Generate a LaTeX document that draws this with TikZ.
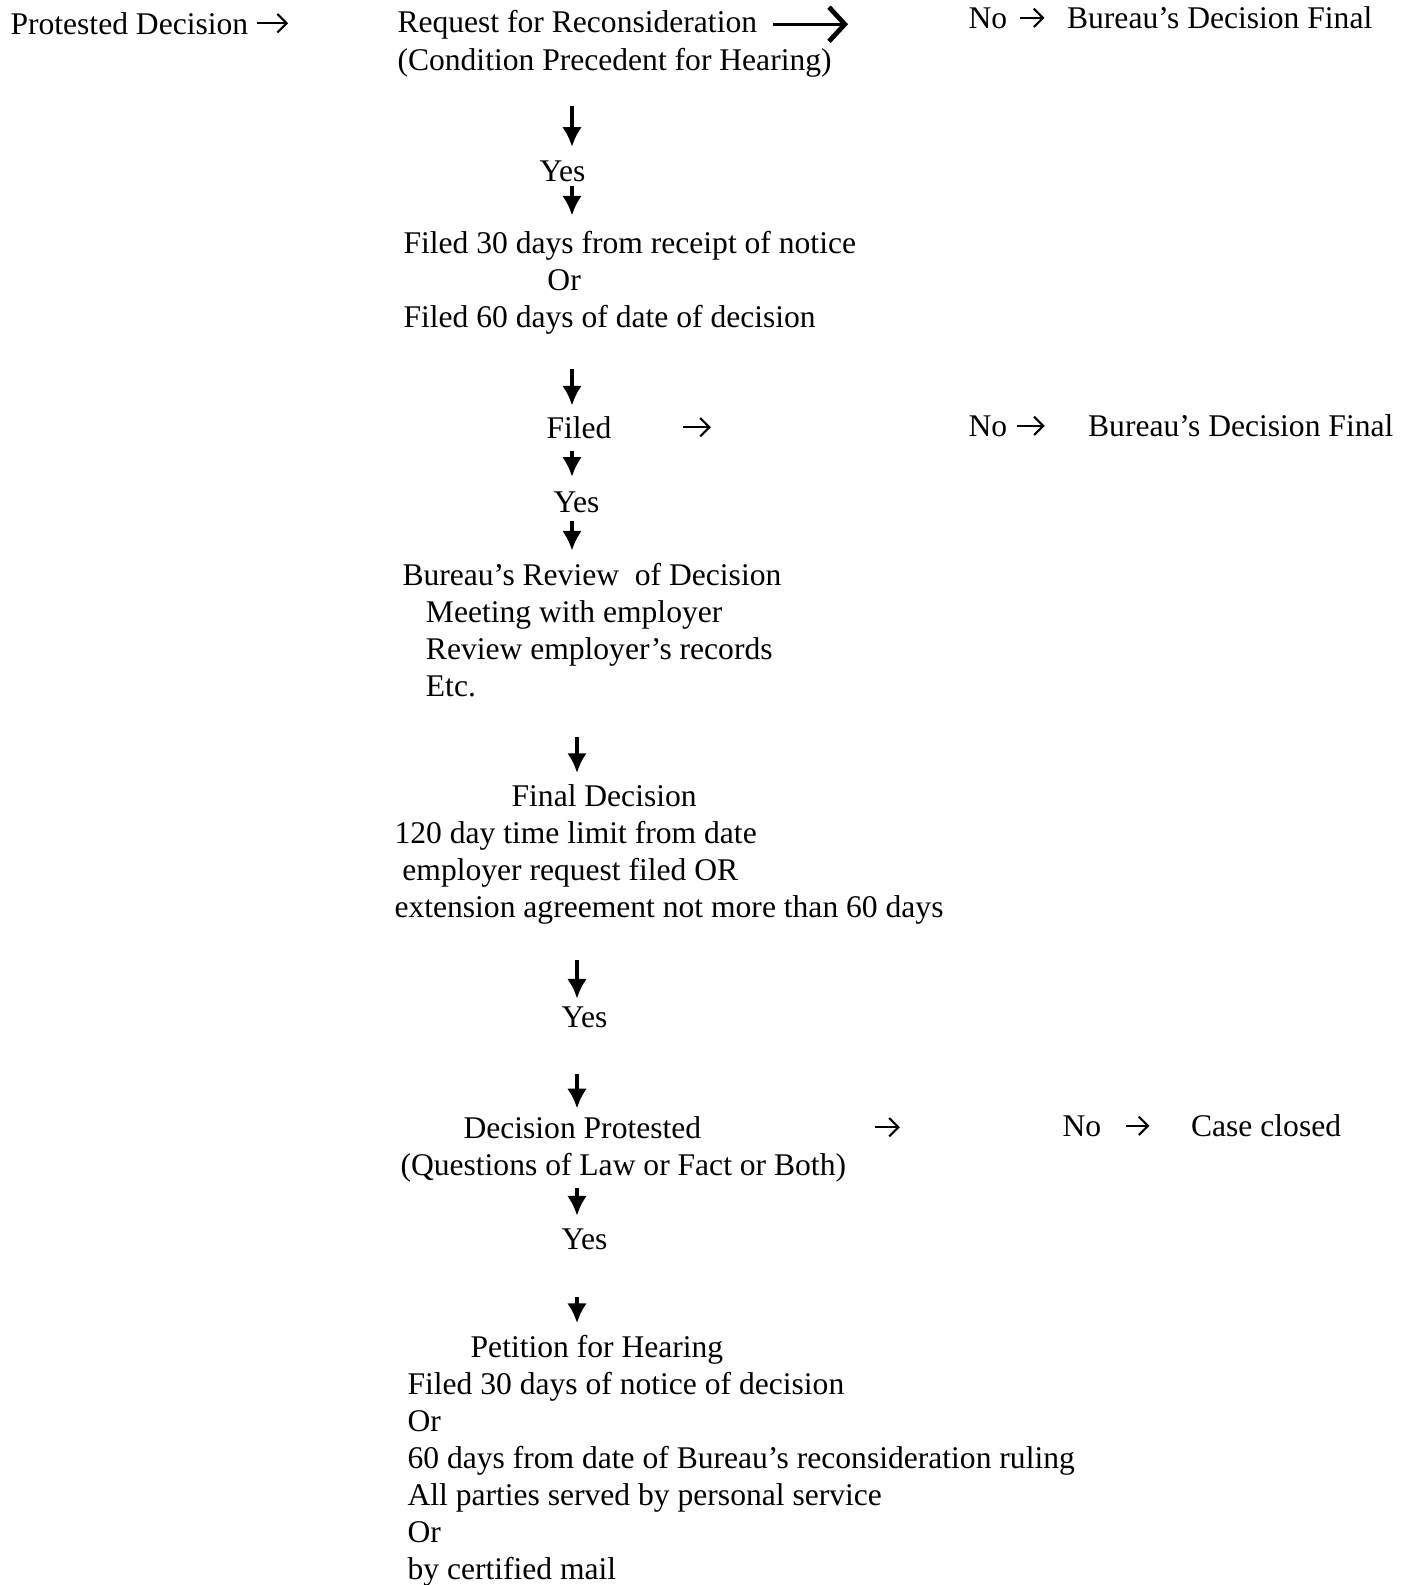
\documentclass[tikz,border=0pt]{standalone}
\usepackage{fontspec}
\setmainfont{Liberation Serif}
\usetikzlibrary{arrows.meta,positioning}

\begin{document}
\begin{tikzpicture}[x=0.38pt, y=-0.38pt]
\tikzset{
    mytext/.style={inner sep=0pt, anchor=base west, align=left, font=\fontsize{12}{14}\selectfont},
    downarrow/.style={->, >={Latex[length=7.5pt,width=7.5pt]}, line width=1.5pt},
    rightarrow/.style={->, >={Straight Barb[length=3.5pt,width=7pt]}, line width=0.8pt},
    handarrow/.style={->, >={Straight Barb[length=6pt,width=13pt,line width=1.8pt]}, line width=1.2pt}
}
\useasboundingbox (0,0) rectangle (1417,1585);
\coordinate (colA) at (572,0);
\coordinate (colB) at (577,0);
% multi-line nodes sit on the baseline of their last line

% first row
\node[mytext] (protested) at (10,34) {Protested Decision};
\node[mytext] (request) at (397,32) {Request for Reconsideration};
\node[mytext] (condition) at (397,70) {(Condition Precedent for Hearing)};
\node[mytext] (no1) at (968,28) {No};
\node[mytext, base right=22.4pt of no1] (final1) {Bureau’s Decision Final};

\node[mytext] (yes1) at (539,181) {Yes};
\node[mytext] (filing) at (403,327) {Filed 30 days from receipt of notice\\\hspace*{54.7pt}Or\\Filed 60 days of date of decision};

% filed row
\node[mytext] (filed) at (546,438) {Filed};
\node[mytext] (no2) at (968,436) {No};
\node[mytext, base right=30.4pt of no2] (final2) {Bureau’s Decision Final};

\node[mytext] (yes2) at (553,512) {Yes};
\node[mytext] (review) at (402,696) {Bureau’s Review\ \ of Decision\\\hspace*{8.9pt}Meeting with employer\\\hspace*{8.9pt}Review employer’s records\\\hspace*{8.9pt}Etc.};
\node[mytext] (finaldec) at (394,917) {\hspace*{44.5pt}Final Decision\\120 day time limit from date\\\hspace*{3pt}employer request filed OR\\extension agreement not more than 60 days};
\node[mytext] (yes3) at (561,1027) {Yes};

% protest row
\node[mytext] (protest) at (463,1138) {Decision Protested};
\node[mytext] (questions) at (400,1175) {(Questions of Law or Fact or Both)};
\node[mytext] (no3) at (1062,1136) {No};
\node[mytext, base right=33.8pt of no3] (closed) {Case closed};

\node[mytext] (yes4) at (561,1249) {Yes};
\node[mytext] (petition) at (407,1579) {\hspace*{24pt}Petition for Hearing\\Filed 30 days of notice of decision\\Or\\60 days from date of Bureau’s reconsideration ruling\\All parties served by personal service\\Or\\by certified mail};

% sideways arrows
\draw[rightarrow, shorten <=3pt, shorten >=41.4pt] (protested.east) -- (protested.east -| request.west);
\draw[handarrow, shorten <=6pt, shorten >=45.6pt] (request.east) -- (request.east -| no1.west);
\draw[rightarrow, shorten <=4.6pt, shorten >=8.4pt] (no1.east) -- (no1.east -| final1.west);
\draw[rightarrow, shorten <=27pt, shorten >=97.7pt] (filed.east) -- (filed.east -| no2.west);
\draw[rightarrow, shorten <=3.4pt, shorten >=16.3pt] (no2.east) -- (no2.east -| final2.west);
\draw[rightarrow, shorten <=66pt, shorten >=61.6pt] (protest.east) -- (protest.east -| no3.west);
\draw[rightarrow, shorten <=9.1pt, shorten >=15.6pt] (no3.east) -- (no3.east -| closed.west);

% down arrows
\draw[downarrow, shorten <=11pt, shorten >=4.9pt] (condition.south -| colA) -- (yes1.north -| colA);
\draw[downarrow, shorten <=1.5pt, shorten >=5.7pt] (yes1.south -| colA) -- (filing.north -| colA);
\draw[downarrow, shorten <=13.3pt, shorten >=3.8pt] (filing.south -| colA) -- (filed.north -| colA);
\draw[downarrow, shorten <=4.6pt, shorten >=5.3pt] (filed.south -| colA) -- (yes2.north -| colA);
\draw[downarrow, shorten <=3pt, shorten >=4.6pt] (yes2.south -| colA) -- (review.north -| colA);
\draw[downarrow, shorten <=15.2pt, shorten >=4.2pt] (review.south -| colB) -- (finaldec.north -| colB);
\draw[downarrow, shorten <=13.7pt, shorten >=2.7pt] (finaldec.south -| colB) -- (yes3.north -| colB);
\draw[downarrow, shorten <=17.5pt, shorten >=2.7pt] (yes3.south -| colB) -- (protest.north -| colB);
\draw[downarrow, shorten <=2.3pt, shorten >=4.6pt] (questions.south -| colB) -- (yes4.north -| colB);
\draw[downarrow, shorten <=17.9pt, shorten >=4.6pt] (yes4.south -| colB) -- (petition.north -| colB);
\end{tikzpicture}
\end{document}
